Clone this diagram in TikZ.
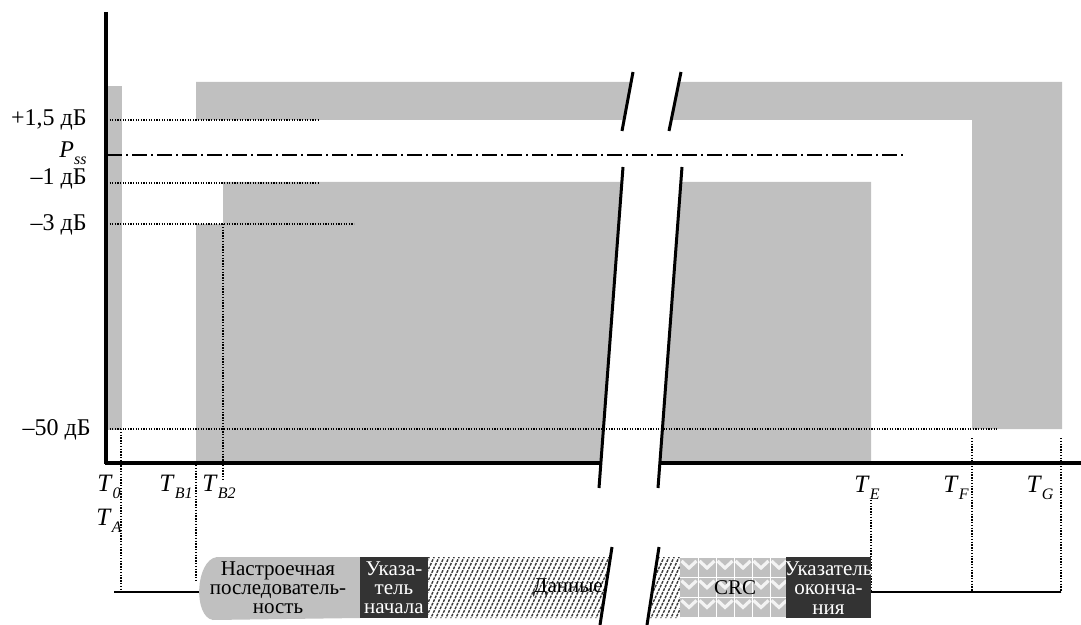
\documentclass[tikz,border=0pt]{standalone}
\usepackage{fontspec}
\setmainfont{Liberation Serif}
\usetikzlibrary{calc}
\usepackage{xcolor}
\definecolor{maskgray}{RGB}{192,192,192}
\definecolor{fielddark}{RGB}{51,51,51}
\newcommand{\tsub}[2]{\textit{#1}\raisebox{-0.6ex}{\fontsize{8}{8}\selectfont\itshape #2}}

\begin{document}
\begin{tikzpicture}[x=0.5pt, y=-0.5pt]
        % ================= 样式定义 =================
        \tikzset{
            % 灰色的功率模板区域
            mask/.style={fill=maskgray, draw=none},
            % 坐标轴
            axis/.style={line width=1.6pt, black},
            % 水平虚线 (电平)
            guide/.style={line width=0.55pt, dash pattern=on 0.6pt off 0.7pt, black},
            % 竖直虚线 (时刻)
            vguide/.style={line width=0.7pt, dash pattern=on 0.7pt off 0.7pt, black},
            % P_ss 点划线
            pss/.style={line width=1pt, dash pattern=on 7.5pt off 2pt on 1pt off 2pt},
            % 断开符号
            brk/.style={line width=1.5pt, black},
            lvl/.style={anchor=east, inner sep=0pt, font=\fontsize{12}{13}\selectfont},
            tlab/.style={inner sep=0pt, font=\fontsize{12.5}{13}\selectfont},
            field/.style={inner sep=0pt, align=center, font=\fontsize{10.5}{9.6}\selectfont},
            hatch/.style={gray!45!black, line width=0.7pt, dash pattern=on 1.4pt off 0.6pt}
        }
        \useasboundingbox (0,0) rectangle (1081,625);

        % ================= 1. 灰色模板区域 =================
        \fill[mask] (107,86) rectangle (122,430);
        \fill[mask] (196,82) -- (1062,82) -- (1062,429) -- (972,429) -- (972,120) -- (196,120) -- cycle;
        \fill[mask] (223,182) -- (871,182) -- (871,463) -- (196,463) -- (196,224) -- (223,224) -- cycle;

        % 断开处留白
        \fill[white] (633,72) -- (681,72) -- (669,131) -- (622,131) -- cycle;
        \fill[white] (623,167) -- (682,167) -- (658,488) -- (599,488) -- cycle;

        % ================= 2. 电平线和时刻线 =================
        \draw[guide] (107,120) -- (320,120);
        \draw[guide] (107,183) -- (320,183);
        \draw[guide] (107,224) -- (354,224);
        \draw[guide] (107,429) -- (997,429);
        \draw[pss] (107,155) -- (903,155);

        \draw[vguide] (121,429) -- (121,592);
        \draw[vguide] (196,465) -- (196,582);
        \draw[vguide] (223,224) -- (223,480);
        \draw[vguide] (871,500) -- (871,592);
        \draw[vguide] (972,438) -- (972,592);
        \draw[vguide] (1061,438) -- (1061,592);

        % ================= 3. 坐标轴 (x 轴在断开处中断) =================
        \draw[axis] (106,12) -- (106,464);
        \draw[axis] (105,463) -- (600.9,463);
        \draw[axis] (659.9,463) -- (1081,463);

        \draw[brk] (633,72) -- (622,131);
        \draw[brk] (681,72) -- (669,131);
        \draw[brk] (623,167) -- (599,488);
        \draw[brk] (682,167) -- (658,488);

        % ================= 4. 标签 =================
        \node[lvl] (l15) at (87,120) {+1,5 дБ};
        \node[lvl] (pss) at (87,153) {\tsub{P}{ss}};
        \node[lvl] (lm1) at (87,179) {--1 дБ};
        \node[lvl] (lm3) at (87,225) {--3 дБ};
        \node[lvl] (lm50) at (91,430) {--50 дБ};

        \node[tlab] (t0) at (109,487) {\tsub{T}{0}};
        \node[tlab] (ta) at (109,521) {\tsub{T}{A}};
        \node[tlab] (tb1) at (176,487) {\tsub{T}{B1}};
        \node[tlab] (tb2) at (219,487) {\tsub{T}{B2}};
        \node[tlab] (te) at (867,488) {\tsub{T}{E}};
        \node[tlab] (tf) at (956,488) {\tsub{T}{F}};
        \node[tlab] (tg) at (1040,488) {\tsub{T}{G}};

        % ================= 5. 帧结构 =================
        \draw[line width=1pt] (114,592) -- (200,592);
        \draw[line width=1pt] (871,592) -- (1061,592);

        \fill[maskgray] (360,557) -- (217,557) .. controls (195,560) and (193,617) .. (213,620) -- (360,618) -- cycle;
        \fill[fielddark] (360,557) rectangle (428,618);

        % 数据区: 斜线填充
        \begin{scope}
            \clip (428,557) -- (610.5,557) -- (601.1,618) -- (428,618) -- cycle
                  (657.5,557) -- (680,557) -- (680,618) -- (648.1,618) -- cycle;
            \foreach \i in {0,...,60}
                \draw[hatch] (390+\i*5,620) -- ++(30,-65);
        \end{scope}

        % CRC: 灰底白色人字纹
        \begin{scope}
            \clip (680,558) rectangle (786,617);
            \fill[maskgray] (680,558) rectangle (786,617);
            \foreach \cx in {0,...,5}
                \foreach \cy in {0,1,2}
                    \draw[white!80!maskgray, line width=1.6pt] ($(680,558)+(18*\cx,19.7*\cy)+(1.5,3)$) -- ++(7.5,7) -- ++(7.5,-7);
            \foreach \gx in {698,716,734,752,770}
                \draw[white, line width=0.5pt] (\gx,558) -- (\gx,617);
            \draw[white, line width=0.5pt] (680,577.7) -- (786,577.7);
            \draw[white, line width=0.5pt] (680,597.3) -- (786,597.3);
        \end{scope}
        \fill[fielddark] (786,557) rectangle (871,618);

        \draw[brk] (612,547) -- (600,625);
        \draw[brk] (659,547) -- (647,625);

        \node[field] (pre) at (278,588) {Настроечная\\последователь-\\ность};
        \node[field, text=white] (sfd) at (394,588) {Указа-\\тель\\начала};
        \node[field] (data) at (568,588) {Данные};
        \node[field] (crc) at (735,588) {CRC};
        \node[field, text=white] (efd) at (828.5,588) {Указатель\\оконча-\\ния};

    \end{tikzpicture}
\end{document}
